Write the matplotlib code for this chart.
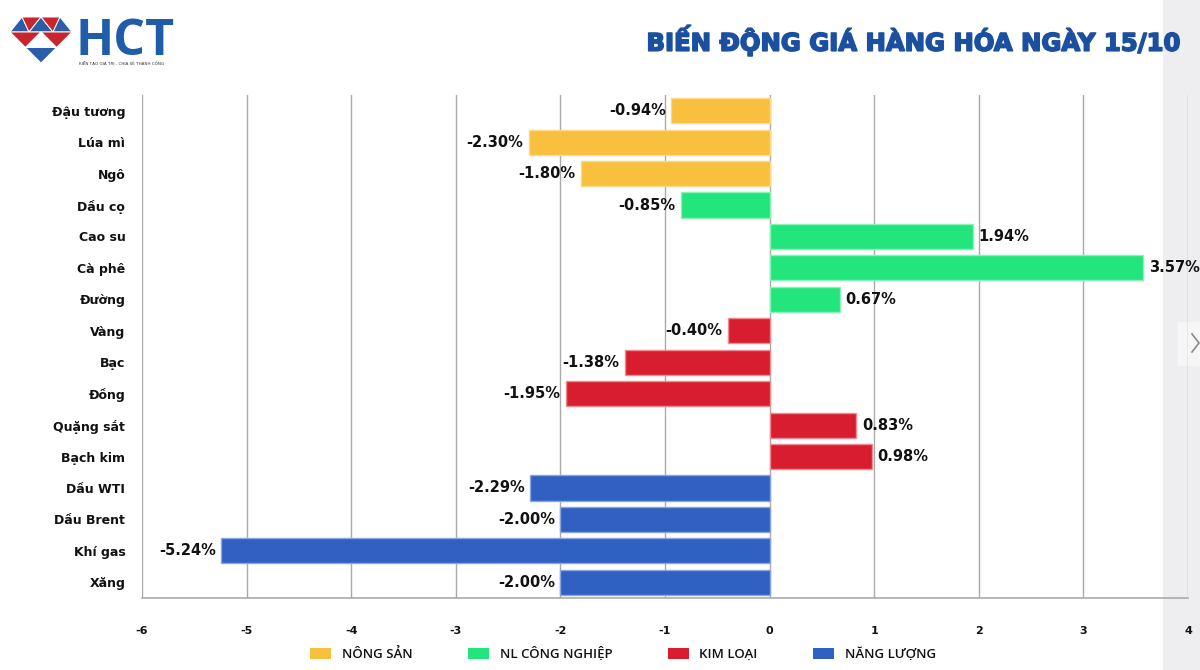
import matplotlib
matplotlib.use("Agg")
import matplotlib.pyplot as plt
import matplotlib.patheffects as pe
from matplotlib.patches import Polygon, Rectangle, Patch

plt.rcParams['font.family'] = ['DejaVu Sans']

# ---------------- data ----------------
categories = ["Đậu tương", "Lúa mì", "Ngô", "Dầu cọ", "Cao su", "Cà phê", "Đường",
              "Vàng", "Bạc", "Đồng", "Quặng sắt", "Bạch kim",
              "Dầu WTI", "Dầu Brent", "Khí gas", "Xăng"]
values = [-0.94, -2.30, -1.80, -0.85, 1.94, 3.57, 0.67,
          -0.40, -1.38, -1.95, 0.83, 0.98,
          -2.29, -2.00, -5.24, -2.00]
groups = ["NÔNG SẢN"] * 3 + ["NL CÔNG NGHIỆP"] * 4 + ["KIM LOẠI"] * 5 + ["NĂNG LƯỢNG"] * 4
group_names = ["NÔNG SẢN", "NL CÔNG NGHIỆP", "KIM LOẠI", "NĂNG LƯỢNG"]
group_colors = {"NÔNG SẢN": "#F8C03E", "NL CÔNG NGHIỆP": "#22E57B",
                "KIM LOẠI": "#D81E2E", "NĂNG LƯỢNG": "#2F60C2"}
edge_colors = {"NÔNG SẢN": "#FBD98A", "NL CÔNG NGHIỆP": "#8AF2B8",
               "KIM LOẠI": "#EE8A92", "NĂNG LƯỢNG": "#8AA6DE"}
x_ticks = [-6, -5, -4, -3, -2, -1, 0, 1, 2, 3, 4]
title = "BIẾN ĐỘNG GIÁ HÀNG HÓA NGÀY 15/10"

W, H = 1200, 670
fig = plt.figure(figsize=(W / 100, H / 100), dpi=100)
fig.patch.set_facecolor("white")

# background overlay (pixel coords)
bg = fig.add_axes([0, 0, 1, 1], zorder=-1)
bg.set_xlim(0, W)
bg.set_ylim(H, 0)
bg.axis("off")
bg.add_patch(Rectangle((1163, 0), 37, H, facecolor="#EEEEF0", edgecolor="none"))
bg.add_patch(Rectangle((1178, 322), 22, 44, facecolor="#F6F6F7", edgecolor="none"))
bg.plot([1192, 1199, 1192], [334, 343, 352], color="#8A8A8A", lw=1.2)

# logo (diamond)
red, blue = "#C8262C", "#2A5DAA"
T0, T1, T2 = (22, 17), (41, 17), (60, 17)
M0, M1, Mc, M2, M3 = (10, 32), (29, 32), (41, 32), (53, 32), (72, 32)
L, R, A = (25.5, 47.5), (56.5, 47.5), (41, 63)
tris = [
    ([T0, M0, M1], blue), ([T0, T1, M1], red), ([T1, M1, M2], blue),
    ([T1, T2, M2], red), ([T2, M2, M3], blue),
    ([M0, Mc, L], red), ([Mc, M3, R], red), ([Mc, L, R], "white"),
    ([L, R, A], blue),
]
for pts, c in tris:
    bg.add_patch(Polygon(pts, closed=True, fc=c, ec="white", lw=0.7))
bg.text(76, 55, "HCT", fontsize=36, fontweight="bold", color="#1F5CA9",
        va="baseline", ha="left", family=["Open Sans", "DejaVu Sans"])
bg.text(79, 62.5, "KIẾN TẠO GIÁ TRỊ - CHIA SẺ THÀNH CÔNG", fontsize=3, color="#333333",
        va="center", ha="left")

# title
bg.text(1180, 40, title, fontsize=17.5, fontweight="bold", color="#1B4F9F",
        ha="right", va="center",
        path_effects=[pe.withStroke(linewidth=1.2, foreground="#1B4F9F")])

# ---------------- main chart ----------------
ax = fig.add_axes([142 / W, 1 - 598 / H, (1188 - 142) / W, (598 - 95) / H])
ax.set_facecolor("none")
ypos = list(range(len(categories)))
colors = [group_colors[g] for g in groups]
edges = [edge_colors[g] for g in groups]
ax.barh(ypos, values, height=0.8, color=colors, edgecolor=edges, linewidth=1.0, zorder=3)

ax.set_xlim(-6, 4)
ax.set_ylim(len(categories) - 0.5, -0.5)
ax.set_xticks(x_ticks)
ax.set_xticklabels([str(t) for t in x_ticks])
ax.set_yticks(ypos)
ax.set_yticklabels(categories)
for lab in ax.get_yticklabels():
    lab.set_fontweight("bold")
    lab.set_fontsize(9)
    lab.set_color("#111111")
for lab in ax.get_xticklabels():
    lab.set_fontweight("bold")
    lab.set_fontsize(8)
    lab.set_color("#111111")
ax.tick_params(axis="x", length=0, pad=20)
ax.tick_params(axis="y", length=0, pad=12)
ax.grid(axis="x", color="#AAAAAA", lw=1.0, zorder=1)
for s in ["top", "right", "left"]:
    ax.spines[s].set_visible(False)
ax.spines["bottom"].set_color("#AAAAAA")
ax.spines["bottom"].set_linewidth(1.2)

for y, v in zip(ypos, values):
    txt = f"{v:.2f}%"
    if v < 0:
        ax.annotate(txt, (v, y), xytext=(-4, 0), textcoords="offset points",
                    ha="right", va="center", fontsize=10.5, fontweight="bold",
                    color="#111111", zorder=4)
    else:
        ax.annotate(txt, (v, y), xytext=(4, 0), textcoords="offset points",
                    ha="left", va="center", fontsize=10.5, fontweight="bold",
                    color="#111111", zorder=4)

handles = [Patch(facecolor=group_colors[g], edgecolor="none", label=g) for g in group_names]
leg = fig.legend(handles=handles, loc="center", bbox_to_anchor=(623 / W, 1 - 654 / H),
                 ncol=4, frameon=False, handlelength=1.6, handleheight=0.9,
                 columnspacing=4.2, handletextpad=0.8,
                 prop={"family": ["Open Sans", "DejaVu Sans"], "weight": "semibold", "size": 9.5})
for t in leg.get_texts():
    t.set_color("#111111")

fig.savefig("out.png", dpi=100)
